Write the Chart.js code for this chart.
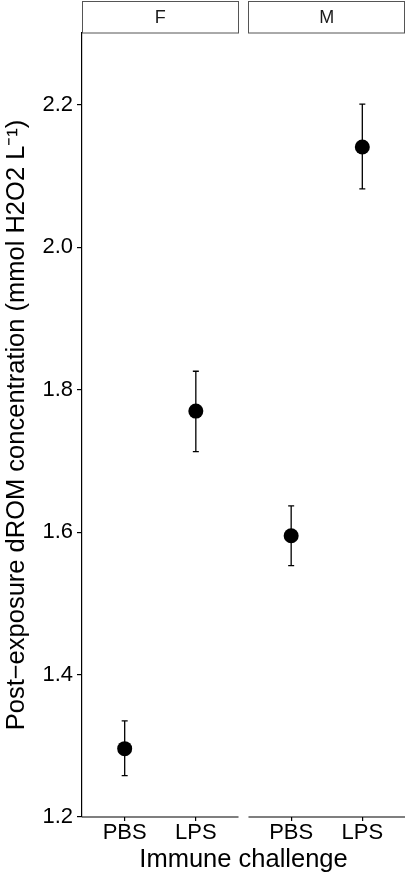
<!DOCTYPE html>
<html>
<head>
<meta charset="utf-8">
<script src="https://cdn.jsdelivr.net/npm/chart.js@4.4.0/dist/chart.umd.min.js"></script>
<style>
html, body { margin: 0; padding: 0; background: #fff; }
#wrap { position: relative; width: 408px; height: 877px; }
</style>
</head>
<body>
<div id="wrap"><canvas id="chart" width="408" height="877"></canvas></div>
<script>
"use strict";

// facets and x categories
const panels = ['F', 'M'];
const treatments = ['PBS', 'LPS'];

// one value per panel x treatment: F-PBS, F-LPS, M-PBS, M-LPS
const meanValues = [1.296, 1.770, 1.595, 2.141];
const lowerValues = [1.258, 1.713, 1.553, 2.082];
const upperValues = [1.335, 1.826, 1.637, 2.201];

const yTicks = [1.2, 1.4, 1.6, 1.8, 2.0, 2.2];

// discrete axis layout, ggplot style: each panel spans 0.4 .. 2.6
const panelGap = 0.14;
const panelStep = 2.2 + panelGap;

function xPos(p, t) {
	return p * panelStep + t + 1;
}

const xTickValues = [];
const points = [];
panels.forEach(function(p, pi) {
	treatments.forEach(function(t, ti) {
		xTickValues.push(xPos(pi, ti));
		points.push({ x: xPos(pi, ti), y: meanValues[pi * treatments.length + ti] });
	});
});

const FONT = '"Liberation Sans", Arial, Helvetica, sans-serif';
Chart.defaults.font.family = FONT;
Chart.defaults.color = '#000';

const facetPlugin = {
	id: 'facets',
	afterDraw(chart) {
		const ctx = chart.ctx;
		const xs = chart.scales.x;
		const area = chart.chartArea;
		ctx.save();
		panels.forEach(function(p, i) {
			const x0 = xs.getPixelForValue(i * panelStep + 0.4);
			const x1 = xs.getPixelForValue(i * panelStep + 2.6);
			// strip
			ctx.fillStyle = '#fff';
			ctx.strokeStyle = '#555';
			ctx.lineWidth = 1;
			ctx.fillRect(x0, 1.5, x1 - x0, area.top - 1.5);
			ctx.strokeRect(Math.round(x0) + 0.5, 1.5, Math.round(x1 - x0) - 1, area.top - 1.5);
			ctx.fillStyle = '#1a1a1a';
			ctx.font = '18px ' + FONT;
			ctx.textAlign = 'center';
			ctx.textBaseline = 'middle';
			ctx.fillText(p, (x0 + x1) / 2, 18);
			// x axis line, one per panel
			ctx.strokeStyle = '#000';
			ctx.lineWidth = 1.2;
			ctx.beginPath();
			ctx.moveTo(x0, area.bottom);
			ctx.lineTo(x1, area.bottom);
			ctx.stroke();
		});
		ctx.restore();
	}
};

const errorBarPlugin = {
	id: 'errorBars',
	beforeDatasetsDraw(chart) {
		const ctx = chart.ctx;
		const ys = chart.scales.y;
		const meta = chart.getDatasetMeta(0);
		ctx.save();
		ctx.strokeStyle = '#000';
		ctx.lineWidth = 1.3;
		meta.data.forEach(function(pt, i) {
			const x = pt.x;
			const yl = ys.getPixelForValue(lowerValues[i]);
			const yh = ys.getPixelForValue(upperValues[i]);
			ctx.beginPath();
			ctx.moveTo(x, yl);
			ctx.lineTo(x, yh);
			ctx.moveTo(x - 3, yl);
			ctx.lineTo(x + 3, yl);
			ctx.moveTo(x - 3, yh);
			ctx.lineTo(x + 3, yh);
			ctx.stroke();
		});
		ctx.restore();
	}
};

new Chart(document.getElementById('chart'), {
	type: 'scatter',
	data: {
		datasets: [{
			data: points,
			backgroundColor: '#000',
			borderColor: '#000',
			borderWidth: 0,
			pointRadius: 7.5,
			pointHoverRadius: 7.5,
		}]
	},
	options: {
		responsive: false,
		animation: false,
		devicePixelRatio: 1,
		layout: {
			autoPadding: false,
			padding: { top: 33, right: 3, left: 0, bottom: 0 }
		},
		scales: {
			x: {
				type: 'linear',
				min: 0.4,
				max: 2.6 + (panels.length - 1) * panelStep,
				afterBuildTicks: function(scale) {
					scale.ticks = xTickValues.map(function(v) { return { value: v }; });
				},
				afterFit: function(scale) {
					scale.height = 60;
					scale.paddingLeft = 0;
					scale.paddingRight = 0;
				},
				ticks: {
					autoSkip: false,
					maxRotation: 0,
					padding: 1,
					color: '#000',
					font: { size: 22, lineHeight: 1 },
					callback: function(val, idx) {
						return treatments[idx % treatments.length];
					}
				},
				grid: {
					drawOnChartArea: false,
					tickLength: 4,
					color: '#000',
					lineWidth: 1.2,
				},
				border: { display: false },
				title: {
					display: true,
					text: 'Immune challenge',
					color: '#000',
					font: { size: 25.5, lineHeight: 1 },
					padding: { top: 0, bottom: 4 },
				}
			},
			y: {
				min: 1.2,
				max: 2.301,
				afterBuildTicks: function(scale) {
					scale.ticks = yTicks.map(function(v) { return { value: v }; });
				},
				afterFit: function(scale) {
					scale.width = 82;
					scale.paddingTop = 0;
					scale.paddingBottom = 0;
				},
				ticks: {
					padding: 4,
					color: '#000',
					font: { size: 22, lineHeight: 1 },
					callback: function(val) {
						return val.toFixed(1);
					}
				},
				grid: {
					drawOnChartArea: false,
					tickLength: 5,
					color: '#000',
					lineWidth: 1.2,
				},
				border: { display: true, color: '#000', width: 1.2 },
				title: {
					display: true,
					text: 'Post\u2212exposure dROM concentration (mmol H2O2 L\u207B\u00B9)',
					color: '#000',
					font: { size: 25.5, lineHeight: 1 },
					padding: { top: 4, bottom: 0 },
				}
			}
		},
		plugins: {
			legend: { display: false },
			tooltip: { enabled: false },
		}
	},
	plugins: [errorBarPlugin, facetPlugin]
});
</script>
</body>
</html>
